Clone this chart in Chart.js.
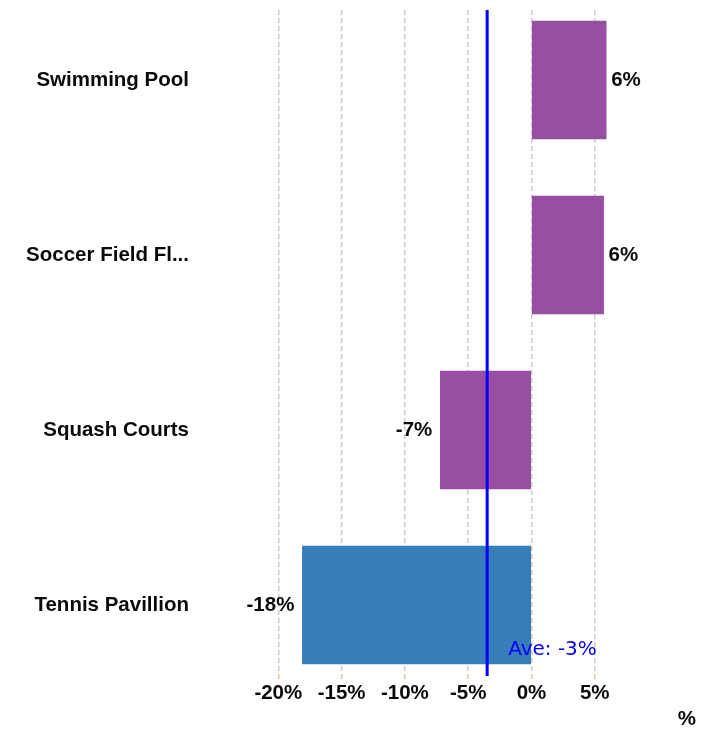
<!DOCTYPE html>
<html>
<head>
<meta charset="utf-8">
<script src="https://cdn.jsdelivr.net/npm/chart.js@4/dist/chart.umd.min.js"></script>
<style>
  html, body { margin: 0; padding: 0; background: #fff; }
  #wrap { position: relative; width: 711px; height: 732px; }
</style>
</head>
<body>
<div id="wrap"><canvas id="chart"></canvas></div>
<script>
// dados do gráfico
const categories = ['Swimming Pool', 'Soccer Field Fl...', 'Squash Courts', 'Tennis Pavillion'];
const values = [5.9, 5.7, -7.2, -18.1];
const barColors = ['#984ea3', '#984ea3', '#984ea3', '#377eb8'];
const xTicks = [-20, -15, -10, -5, 0, 5];
const average = -3.5;

const fontFamily = '"Liberation Sans", Arial, sans-serif';
const labelFont = 'bold 20.5px ' + fontFamily;

// rótulos das barras + linha da média
const overlay = {
    id: 'overlay',
    afterDatasetsDraw(chart) {
        const ctx = chart.ctx;
        const meta = chart.getDatasetMeta(0);
        ctx.save();
        ctx.font = labelFont;
        ctx.fillStyle = '#0a0a0a';
        ctx.textBaseline = 'middle';
        meta.data.forEach((bar, i) => {
            const v = values[i];
            const text = Math.round(v) + '%';
            if (v >= 0) {
                ctx.textAlign = 'left';
                ctx.fillText(text, bar.x + 5, bar.y);
            } else {
                ctx.textAlign = 'right';
                ctx.fillText(text, bar.x - 8, bar.y);
            }
        });

        const area = chart.chartArea;
        const x = chart.scales.x.getPixelForValue(average);
        ctx.strokeStyle = '#0000ff';
        ctx.lineWidth = 3;
        ctx.beginPath();
        ctx.moveTo(x, area.top);
        ctx.lineTo(x, area.bottom + 1);
        ctx.stroke();

        ctx.font = '20px "DejaVu Sans", sans-serif';
        ctx.fillStyle = '#0000ff';
        ctx.textAlign = 'left';
        ctx.textBaseline = 'alphabetic';
        ctx.fillText('Ave: ' + Math.round(average) + '%', x + 21, area.bottom - 20);
        ctx.restore();
    }
};

new Chart(document.getElementById('chart').getContext('2d'), {
    type: 'bar',
    data: {
        datasets: [{
            data: values.map((v, i) => ({ x: v, y: i })),
            backgroundColor: barColors,
            borderWidth: 0,
            barThickness: 118
        }]
    },
    options: {
        indexAxis: 'y',
        responsive: true,
        maintainAspectRatio: false,
        animation: false,
        layout: { padding: { top: 10, right: 15, left: 0, bottom: 0 } },
        plugins: {
            legend: { display: false },
            tooltip: { enabled: false }
        },
        scales: {
            x: {
                type: 'linear',
                min: -22,
                max: 13,
                afterBuildTicks: s => { s.ticks = xTicks.map(v => ({ value: v })); },
                afterFit: s => { s.height = 57; },
                grid: {
                    color: '#cccccc',
                    lineWidth: 1.5,
                    tickLength: 4,
                    tickColor: '#f5c08f'
                },
                border: { display: false, dash: [5, 3] },
                ticks: {
                    padding: 2,
                    color: '#0a0a0a',
                    font: { family: fontFamily, size: 20.5, weight: 'bold' },
                    callback: v => v + '%'
                },
                title: {
                    display: true,
                    text: '%',
                    align: 'end',
                    color: '#0a0a0a',
                    padding: 0,
                    font: { family: fontFamily, size: 20.5, weight: 'bold' }
                }
            },
            y: {
                type: 'linear',
                reverse: true,
                offset: false,
                min: -0.4,
                max: 3.4,
                afterBuildTicks: s => { s.ticks = categories.map((c, i) => ({ value: i })); },
                afterFit: s => {
                    s.width = 253;
                    // o padding dos ticks não deve empurrar a área do gráfico
                    s.paddingTop = 0;
                    s.paddingBottom = 0;
                },
                grid: { display: false, drawTicks: false, offset: false },
                border: { display: false },
                ticks: {
                    padding: 64,
                    color: '#0a0a0a',
                    font: { family: fontFamily, size: 20.5, weight: 'bold' },
                    callback: v => categories[v]
                }
            }
        }
    },
    plugins: [overlay]
});
</script>
</body>
</html>
